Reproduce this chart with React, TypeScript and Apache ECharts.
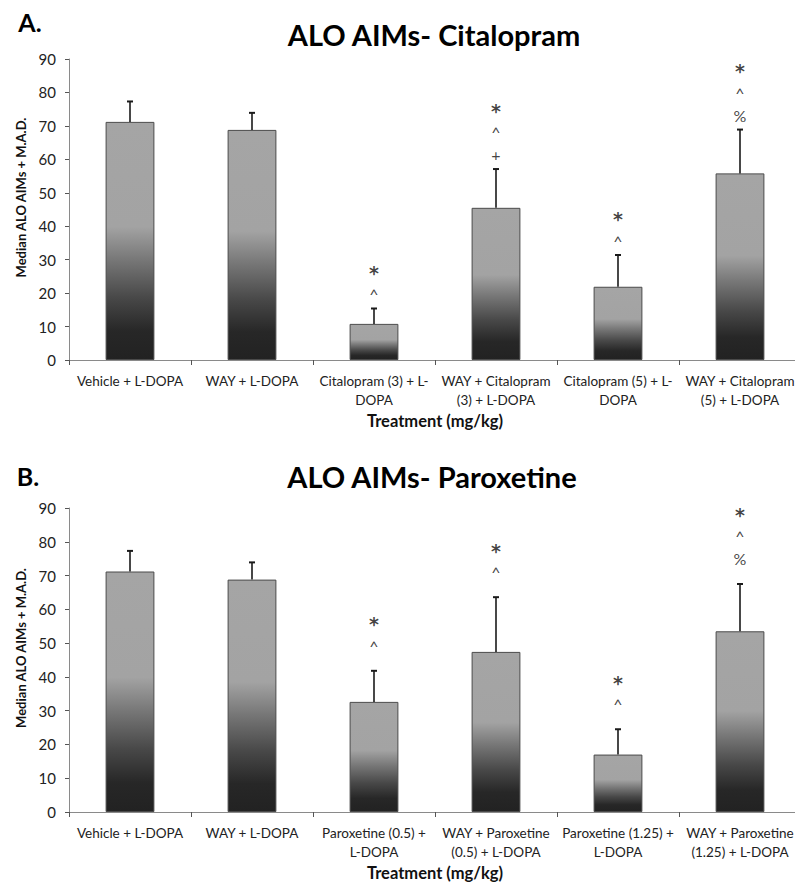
import React, { useEffect, useRef } from "react";
import * as echarts from "echarts";

const categoriesA = [
  "Vehicle + L-DOPA",
  "WAY + L-DOPA",
  "Citalopram (3) + L-\nDOPA",
  "WAY + Citalopram\n(3) + L-DOPA",
  "Citalopram (5) + L-\nDOPA",
  "WAY + Citalopram\n(5) + L-DOPA",
];
const medianA = [71.2, 68.8, 10.8, 45.5, 21.9, 55.8];
const madA = [6.1, 5.1, 4.6, 11.6, 9.5, 13.1];
const signifA = [[], [], ["*", "^"], ["*", "^", "+"], ["*", "^"], ["*", "^", "%"]];

const categoriesB = [
  "Vehicle + L-DOPA",
  "WAY + L-DOPA",
  "Paroxetine (0.5) +\nL-DOPA",
  "WAY + Paroxetine\n(0.5) + L-DOPA",
  "Paroxetine (1.25) +\nL-DOPA",
  "WAY + Paroxetine\n(1.25) + L-DOPA",
];
const medianB = [71.2, 68.8, 32.6, 47.4, 17.0, 53.5];
const madB = [6.1, 5.1, 9.2, 16.2, 7.5, 14.0];
const signifB = [[], [], ["*", "^"], ["*", "^"], ["*", "^"], ["*", "^", "%"]];

const yTicks = [0, 10, 20, 30, 40, 50, 60, 70, 80, 90];

const FONT = "Lato, 'Noto Sans', sans-serif";

export default function App() {
  const ref = useRef<HTMLDivElement>(null);
  useEffect(() => {
    document.body.style.margin = "0";
    if (!ref.current) return;
    const chart = echarts.init(ref.current, undefined, { renderer: "svg" });

    const barGradient = new echarts.graphic.LinearGradient(0, 0, 0, 1, [
      { offset: 0, color: "#a5a5a5" },
      { offset: 0.44, color: "#a3a3a3" },
      { offset: 0.58, color: "#777777" },
      { offset: 0.74, color: "#484848" },
      { offset: 0.88, color: "#272727" },
      { offset: 1, color: "#222222" },
    ]);

    const grids = [
      { left: 69, top: 59, width: 732, height: 301, outerBoundsMode: "none", containLabel: false },
      { left: 69, top: 508, width: 732, height: 304, outerBoundsMode: "none", containLabel: false },
    ];

    const mkX = (cats: string[], idx: number) => ({
      type: "category",
      gridIndex: idx,
      data: cats,
      axisLine: { lineStyle: { color: "#8a8a8a", width: 1 } },
      axisTick: { show: true, length: 5, lineStyle: { color: "#555" } },
      axisLabel: {
        interval: 0,
        color: "#222",
        fontFamily: FONT,
        fontSize: 13.5,
        lineHeight: 19,
        margin: 11,
      },
      name: "Treatment (mg/kg)",
      nameLocation: "middle",
      nameGap: 52,
      nameTextStyle: {
        fontFamily: FONT,
        fontWeight: "bold",
        fontSize: 16.5,
        color: "#111",
      },
    });

    const mkY = (idx: number) => ({
      type: "value",
      gridIndex: idx,
      min: 0,
      max: 90,
      interval: 10,
      axisLine: { show: true, lineStyle: { color: "#8a8a8a", width: 1 } },
      axisTick: { show: true, length: 4, lineStyle: { color: "#555" } },
      splitLine: { show: false },
      axisLabel: {
        color: "#222",
        fontFamily: FONT,
        fontSize: 15,
        margin: 13,
        formatter: (v: number) => (yTicks.includes(v) ? String(v) : ""),
      },
      name: "Median ALO AIMs + M.A.D.",
      nameLocation: "middle",
      nameGap: 31,
      nameTextStyle: {
        fontFamily: FONT,
        fontWeight: "bold",
        fontSize: 13,
        color: "#111",
        padding: [0, 0, 0, 24],
      },
    });

    const mkBar = (vals: number[], idx: number) => ({
      type: "bar",
      xAxisIndex: idx,
      yAxisIndex: idx,
      data: vals,
      barWidth: "40%",
      itemStyle: { color: barGradient, borderColor: "#4a4a4a", borderWidth: 1 },
      z: 2,
    });

    const mkErr = (vals: number[], mads: number[], idx: number) => ({
      type: "custom",
      xAxisIndex: idx,
      yAxisIndex: idx,
      z: 3,
      data: vals.map((v, i) => [i, v, v + mads[i]]),
      encode: { x: 0, y: [1, 2] },
      renderItem: (params: any, api: any) => {
        const base = api.coord([api.value(0), api.value(1)]);
        const top = api.coord([api.value(0), api.value(2)]);
        return {
          type: "group",
          children: [
            {
              type: "line",
              shape: { x1: base[0], y1: base[1], x2: base[0], y2: top[1] },
              style: { stroke: "#1a1a1a", lineWidth: 1.6 },
            },
            {
              type: "line",
              shape: { x1: base[0] - 3, y1: top[1], x2: base[0] + 3, y2: top[1] },
              style: { stroke: "#1a1a1a", lineWidth: 2 },
            },
          ],
        };
      },
    });

    const mkSig = (vals: number[], mads: number[], sig: string[][], idx: number, dist: number) => ({
      type: "scatter",
      xAxisIndex: idx,
      yAxisIndex: idx,
      symbolSize: 0,
      itemStyle: { color: "#111" },
      z: 4,
      data: vals.map((v, i) => [i, v + mads[i]]),
      label: {
        show: true,
        position: "top",
        distance: dist,
        align: "center",
        color: "#111",
        textBorderWidth: 0,
        formatter: (p: any) =>
          (sig[p.dataIndex] || [])
            .map((m) => (m === "*" ? "{s|*}" : "{c|" + m + "}"))
            .join("\n"),
        rich: {
          s: { fontFamily: "'DejaVu Sans', sans-serif", fontSize: 19, fontWeight: "bold", color: "#111", lineHeight: 19 },
          c: { fontFamily: FONT, fontSize: 16, color: "#111", lineHeight: 23 },
        },
      },
    });

    const titleStyle = (text: string, x: number, y: number, size: number) => ({
      type: "text",
      x,
      y,
      style: {
        text,
        fontFamily: FONT,
        fontWeight: "bold",
        fontSize: size,
        fill: "#000",
        textAlign: "center",
        textVerticalAlign: "middle",
      },
    });

    chart.setOption({
      animation: false,
      backgroundColor: "#fff",
      grid: grids,
      xAxis: [mkX(categoriesA, 0), mkX(categoriesB, 1)],
      yAxis: [mkY(0), mkY(1)],
      series: [
        mkBar(medianA, 0),
        mkErr(medianA, madA, 0),
        mkSig(medianA, madA, signifA, 0, 3),
        mkBar(medianB, 1),
        mkErr(medianB, madB, 1),
        mkSig(medianB, madB, signifB, 1, 14),
      ],
      graphic: [
        titleStyle("A.", 30, 22, 25),
        titleStyle("ALO AIMs- Citalopram", 434, 34, 29),
        titleStyle("B.", 28, 476, 25),
        titleStyle("ALO AIMs- Paroxetine", 432, 476, 29),
      ],
    });
    return () => chart.dispose();
  }, []);
  return <div ref={ref} style={{ width: 795, height: 884 }} />;
}
